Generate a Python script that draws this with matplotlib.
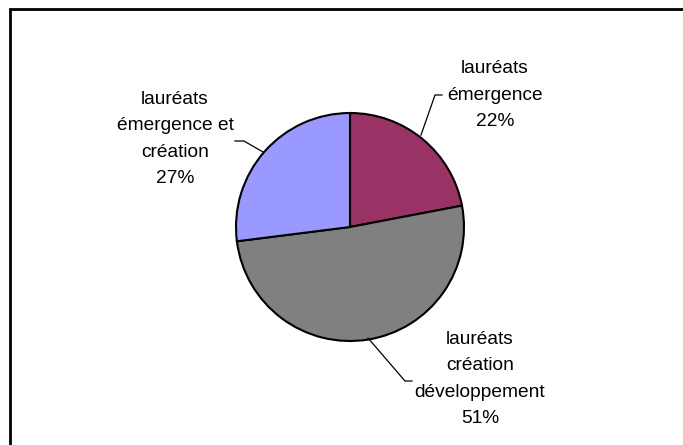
import matplotlib.pyplot as plt
from matplotlib.patches import Rectangle

# --- données ---
categories = ["lauréats\némergence", "lauréats\ncréation\ndéveloppement", "lauréats\némergence et\ncréation"]
parts = [22, 51, 27]
couleurs = ["#993366", "#808080", "#9999FF"]

plt.rcParams['font.family'] = ['Liberation Sans', 'DejaVu Sans']

W, H = 683, 445
fig = plt.figure(figsize=(W / 100, H / 100), dpi=100)
ax = fig.add_axes([0, 0, 1, 1])

# cadre du graphique
ax.add_patch(Rectangle((9.5, -5), W, H - 8.5 + 5, fill=False, ec='black', lw=2))

cx, cy, r = 350, H - 227, 114
wedges, _ = ax.pie(parts, colors=couleurs, startangle=90, counterclock=False,
                   center=(cx, cy), radius=r, frame=True,
                   wedgeprops=dict(edgecolor='black', linewidth=1.5))
ax.set_xlim(0, W)
ax.set_ylim(0, H)
ax.set_aspect('equal')
ax.axis('off')

# étiquettes avec lignes de rappel (positions en pixels depuis le haut)
etiquettes = [
    (495, 95, [(421, 135), (435, 95), (442, 95)]),
    (480, 379, [(368, 338), (405, 381), (412, 381)]),
    (175, 139, [(263, 152), (244, 141), (235, 141)]),
]
for (nom, p, (tx, ty, ligne)) in zip(categories, parts, etiquettes):
    xs = [pt[0] for pt in ligne]
    ys = [H - pt[1] for pt in ligne]
    ax.plot(xs, ys, color='black', lw=0.9)
    ax.text(tx, H - ty, f"{nom}\n{p}%", ha='center', va='center', fontsize=13.8,
            linespacing=1.7)

fig.savefig("out.png", dpi=100, facecolor='white')
